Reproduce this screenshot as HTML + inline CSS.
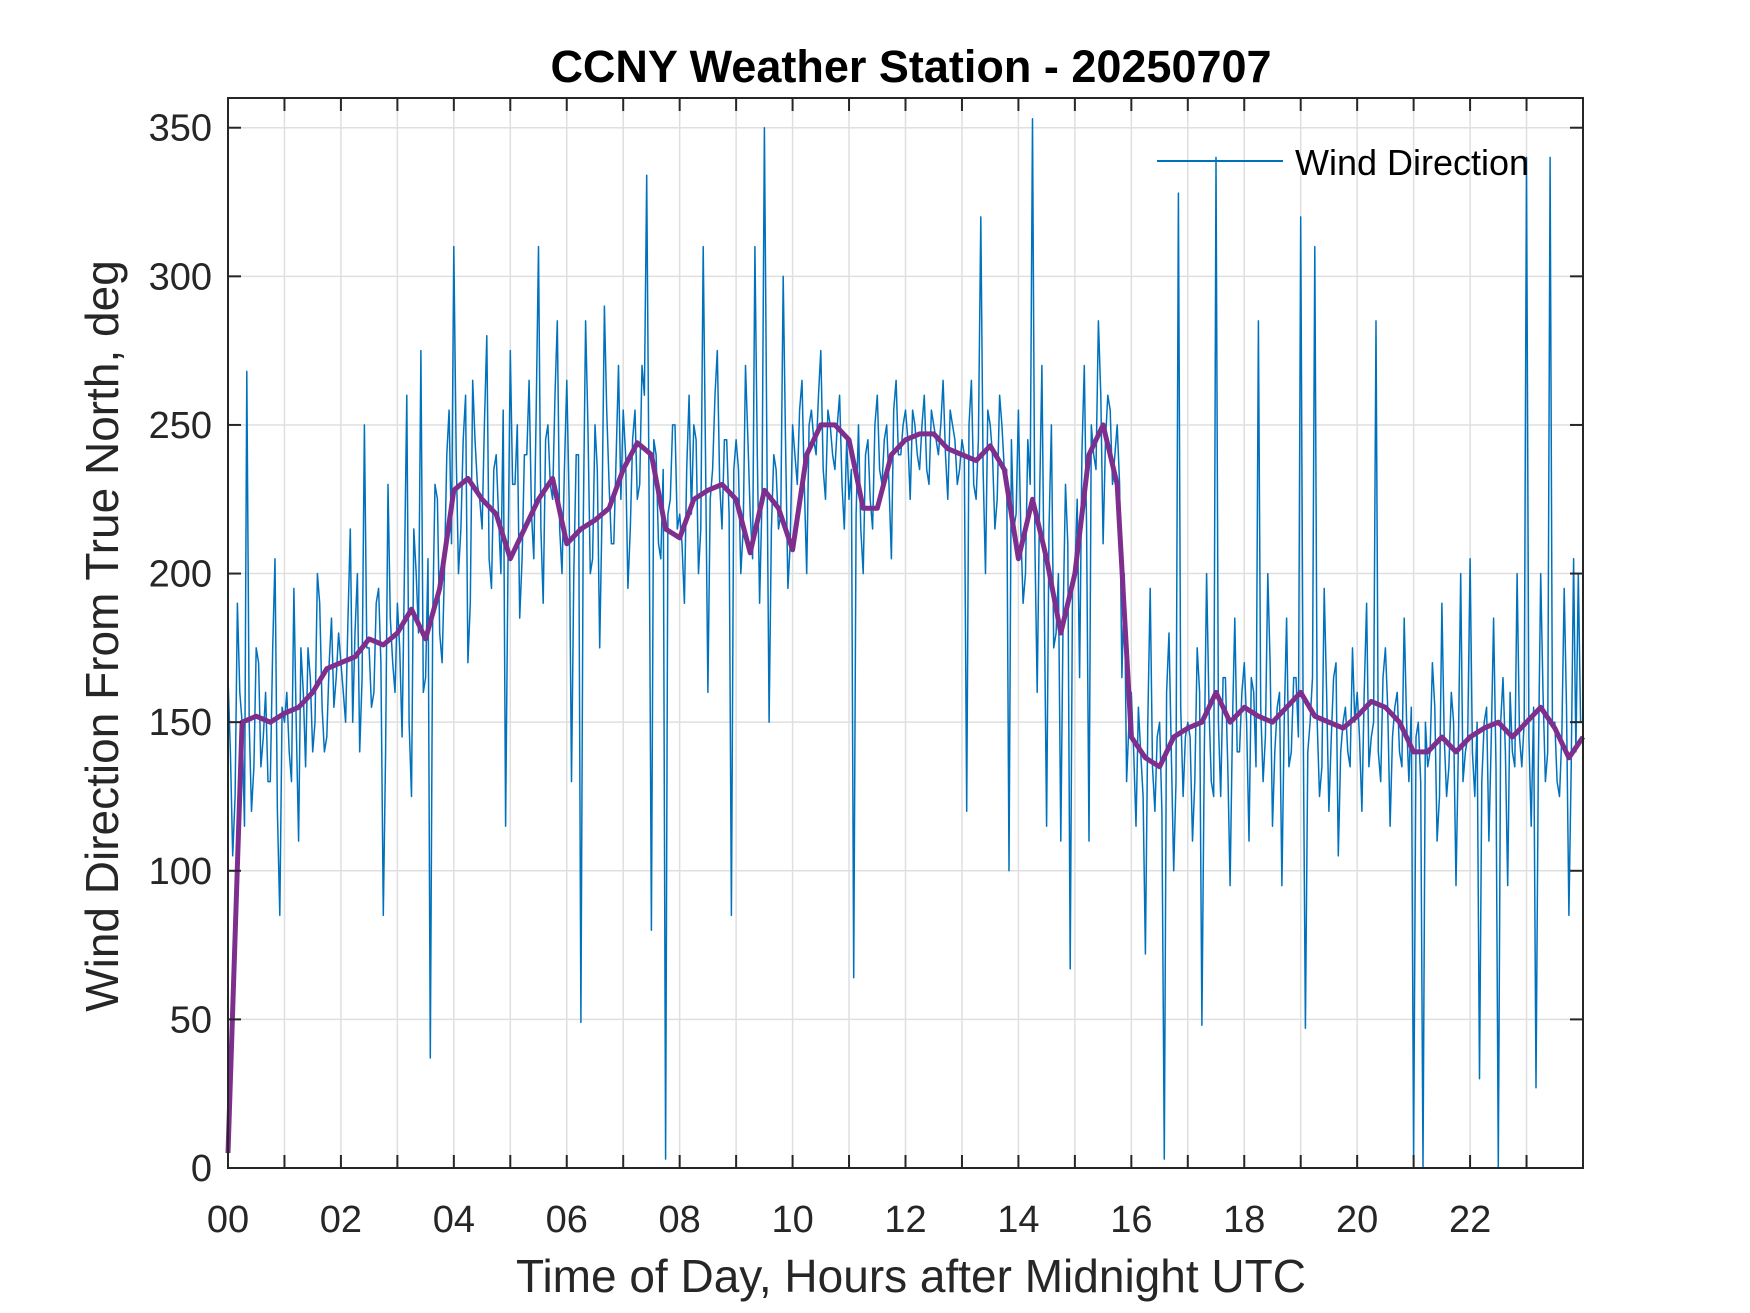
<!DOCTYPE html>
<html><head><meta charset="utf-8"><style>
html,body{margin:0;padding:0;background:#fff;}
svg{display:block;font-family:"Liberation Sans",Arial,sans-serif;}
</style></head><body>
<svg id="chart" width="1750" height="1313" viewBox="0 0 1750 1313" xmlns="http://www.w3.org/2000/svg">
<rect width="1750" height="1313" fill="#fff"/>
<rect x="228" y="98" width="1355" height="1070" fill="#fff"/>
<g id="grid"></g>
<g id="series"></g>
<g id="axes"></g>
<text x="911" y="82" text-anchor="middle" font-size="45" font-weight="bold" fill="#000">CCNY Weather Station - 20250707</text>
<text x="911" y="1292" text-anchor="middle" font-size="46" fill="#262626">Time of Day, Hours after Midnight UTC</text>
<text transform="translate(118,636) rotate(-90)" text-anchor="middle" font-size="46" fill="#262626">Wind Direction From True North, deg</text>
<g>
<line x1="1157" y1="161" x2="1283" y2="161" stroke="#0072BD" stroke-width="2"/>
<text x="1295" y="175" font-size="36" fill="#000">Wind Direction</text>
</g>
</svg>
<script>
const windValuesA = [
165,105,190,150,268,120,175,135,160,130,205,85,
150,140,195,110,160,175,140,200,155,145,185,165,
170,150,215,180,140,250,175,160,195,85,230,170,
190,145,260,125,200,275,165,37,230,180,200,255,
310,200,245,170,265,230,215,280,195,240,200,115,
275,230,185,240,265,205,310,190,250,225,285,200,
265,130,240,49,285,200,250,175,290,230,210,270,
255,195,245,225,270,334,80,240,205,3,225,250,
220,190,260,250,200,310,160,235,275,215,245,85,
245,200,270,220,310,190,350,150,240,215,300,195,
250,230,265,200,255,240,275,225,250,235,260,215,
225,64,250,200,245,215,260,230,250,205,265,240,
255,225,250,235,260,230,250,240,265,225,250,230,
245,120,265,225,320,200,250,215,260,235,100,215,
255,190,245,353,160,270,115,250,180,110,230,67,
200,165,270,110,240,285,210,260,230,250,165,130,
160,115,140,72,195,120,150,3,180,100,328,125,
150,110,175,48,200,130,340,125,165,95,185,140,
170,110,160,285,130,200,115,155,95,185,140,165,
320,47,150,310,125,195,120,165,105,150,140,175,
160,120,190,145,285,130,175,115,155,140,185,130,
3,150,0,135,170,110,190,125,160,95,200,140,
205,125,30,150,110,185,0,165,95,140,200,135,
340,115,27,200,130,340,150,125,195,85,205,200
];
const windValuesB = [
140,125,160,115,150,135,170,145,130,175,120,155,
160,130,150,175,135,165,150,190,140,170,155,180,
160,185,150,200,165,175,155,190,170,140,185,160,
175,200,150,215,180,160,205,185,225,170,240,210,
240,215,260,190,245,225,250,205,235,220,255,200,
230,250,205,240,220,255,215,245,230,260,215,235,
225,200,240,215,250,205,235,220,255,210,240,225,
240,215,255,230,260,225,245,210,235,220,250,215,
210,235,220,245,215,240,225,260,230,245,220,235,
235,215,245,205,240,225,250,215,235,220,245,210,
240,255,230,250,245,260,235,255,240,250,230,245,
235,220,215,240,225,250,235,245,230,255,240,250,
245,255,240,250,235,255,245,250,240,255,245,235,
240,250,230,245,235,255,240,225,250,235,245,220,
215,200,230,210,225,190,215,175,200,185,210,195,
225,240,215,250,235,260,245,255,240,230,200,150,
140,155,125,150,135,145,120,160,140,130,155,145,
145,130,160,140,155,125,150,165,135,150,140,160,
150,165,135,155,145,170,140,160,150,135,165,145,
155,140,165,150,135,160,145,170,140,155,135,150,
145,160,135,150,140,165,155,145,160,135,150,155,
145,130,150,140,155,125,145,135,150,140,130,145,
140,150,130,155,145,135,150,140,160,135,145,150,
145,155,135,160,140,150,130,145,155,135,140,150
];
const smoothValues = [
5,150,152,150, 153,155,160,168, 170,172,178,176, 180,188,178,195,
228,232,225,220, 205,215,225,232, 210,215,218,222, 235,244,240,215,
212,225,228,230, 225,207,228,222, 208,240,250,250, 245,222,222,240,
245,247,247,242, 240,238,243,235, 205,225,205,180, 200,240,250,230,
145,138,135,145, 148,150,160,150, 155,152,150,155, 160,152,150,148,
152,157,155,150, 140,140,145,140, 145,148,150,145, 150,155,148,138, 145
];
const yTicks = [0,50,100,150,200,250,300,350];
const xTickLabels = ["00","02","04","06","08","10","12","14","16","18","20","22"];
const xMin=0,xMax=24,yMin=0,yMax=360;
const L=228,R=1583,T=98,B=1168;
function xs(h){return L+(h-xMin)/(xMax-xMin)*(R-L);}
function ys(v){return B-(v-yMin)/(yMax-yMin)*(B-T);}
const NS="http://www.w3.org/2000/svg";
function mk(tag,attrs,parent){const e=document.createElementNS(NS,tag);for(const k in attrs)e.setAttribute(k,attrs[k]);parent.appendChild(e);return e;}
const grid=document.getElementById('grid'),axes=document.getElementById('axes'),series=document.getElementById('series');
for(let h=1;h<24;h++){
  const g=mk('line',{x1:xs(h),x2:xs(h),y1:T,y2:B,stroke:'#dfdfdf','stroke-width':1.5},grid);
  
  
}
yTicks.forEach(v=>{
  const g=mk('line',{x1:L,x2:R,y1:ys(v),y2:ys(v),stroke:'#dfdfdf','stroke-width':1.5},grid);
  
  
});
const windValues=[];
windValuesA.forEach((v,i)=>{windValues.push(v);windValues.push(windValuesB[i]);});
let d='';
windValues.forEach((v,i)=>{const h=i*(24/windValues.length);d+=(i?'L':'M')+xs(h).toFixed(1)+','+ys(v).toFixed(1);});
const p1=mk('path',{d:d,fill:'none',stroke:'#0072BD','stroke-width':1.5,'stroke-linejoin':'round'},series);


let d2='';
smoothValues.forEach((v,i)=>{const h=i*0.25;d2+=(i?'L':'M')+xs(h).toFixed(1)+','+ys(v).toFixed(1);});
const p2=mk('path',{d:d2,fill:'none',stroke:'#7E2F8E','stroke-width':5,'stroke-linejoin':'round'},series);


const box=mk('rect',{x:L,y:T,width:R-L,height:B-T,fill:'none',stroke:'#262626','stroke-width':2},axes);


for(let h=0;h<=24;h++){
  const t1=mk('line',{x1:xs(h),x2:xs(h),y1:B,y2:B-13,stroke:'#262626','stroke-width':2},axes);
  
  
  const t2=mk('line',{x1:xs(h),x2:xs(h),y1:T,y2:T+13,stroke:'#262626','stroke-width':2},axes);
  
  
}
xTickLabels.forEach((s,i)=>{
  const t=mk('text',{x:xs(i*2),y:1232,'text-anchor':'middle','font-size':38,fill:'#262626'},axes);
  t.textContent=s;
  
  
});
yTicks.forEach(v=>{
  const a=mk('line',{x1:L,x2:L+13,y1:ys(v),y2:ys(v),stroke:'#262626','stroke-width':2},axes);
  
  
  const b=mk('line',{x1:R,x2:R-13,y1:ys(v),y2:ys(v),stroke:'#262626','stroke-width':2},axes);
  
  
  const t=mk('text',{x:212,y:ys(v)+13,'text-anchor':'end','font-size':38,fill:'#262626'},axes);
  t.textContent=v;
  
  
});
</script>
</body></html>
